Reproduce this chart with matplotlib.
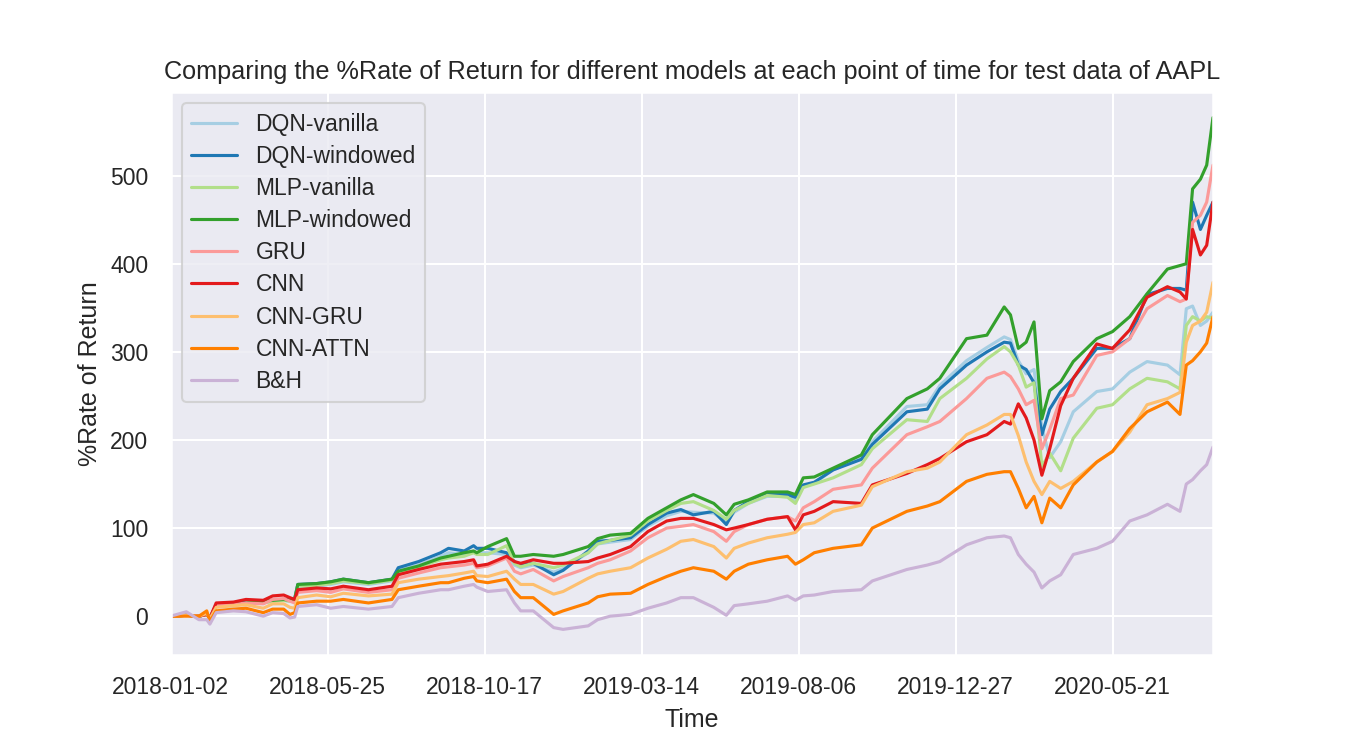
import numpy as np
import matplotlib
matplotlib.use('Agg')
import matplotlib.pyplot as plt
import seaborn as sns

sns.set_theme(style='darkgrid', palette='Paired')
plt.rcParams['font.family'] = ['Liberation Sans', 'DejaVu Sans']
plt.rcParams['xtick.major.pad'] = 4.3
plt.rcParams['ytick.major.pad'] = 4.8

t = [0, 10, 18, 23, 25, 29, 40, 48, 59, 65, 72, 76, 79, 81, 93, 102, 110, 126, 141, 145,
     158, 172, 177, 187, 193, 195, 202, 214, 219, 223, 231, 244, 250, 266, 272, 280, 293, 304, 316, 325,
     333, 346, 354, 359, 368, 380, 393, 398, 403, 410, 422, 440, 447, 469, 482, 490, 507, 520, 531, 535,
     540, 545, 550, 555, 560, 567, 575, 590, 600, 611, 622, 635, 643, 647, 651, 656, 660, 664]

dqn_vanilla = [0, 1, 0, 2, -2, 12, 13, 15, 15, 17, 18, 17, 18, 33, 34, 36, 39, 36, 40, 52,
               58, 68, 72, 70, 74, 72, 72, 70, 58, 55, 58, 50, 54, 72, 82, 84, 87, 102, 114, 119,
               118, 117, 106, 118, 128, 136, 136, 132, 148, 151, 166, 180, 198, 238, 240, 262, 290, 305, 317, 314,
               290, 275, 280, 215, 180, 198, 232, 255, 258, 277, 289, 285, 274, 349, 352, 330, 335, 345]
dqn_windowed = [0, 1, 0, 2, -2, 13, 14, 16, 16, 18, 19, 19, 20, 36, 37, 39, 42, 38, 42, 55,
                62, 72, 77, 74, 80, 77, 77, 72, 62, 58, 60, 47, 52, 74, 85, 86, 89, 104, 117, 121,
                115, 119, 104, 120, 130, 138, 138, 135, 149, 152, 166, 178, 195, 232, 235, 258, 285, 300, 311, 310,
                285, 280, 265, 206, 235, 255, 270, 304, 304, 315, 365, 372, 372, 370, 470, 439, 455, 470]
mlp_vanilla = [0, 1, 0, 2, -2, 11, 12, 14, 15, 17, 18, 17, 18, 34, 35, 37, 40, 37, 41, 50,
               56, 64, 66, 68, 72, 70, 70, 80, 60, 56, 60, 55, 58, 72, 82, 86, 92, 108, 120, 128,
               130, 120, 110, 120, 128, 137, 135, 128, 146, 150, 157, 172, 190, 223, 221, 247, 270, 292, 306, 300,
               285, 260, 265, 170, 185, 165, 202, 236, 240, 258, 270, 266, 258, 330, 340, 335, 340, 338]
mlp_windowed = [0, 1, 0, 2, -2, 12, 13, 15, 17, 18, 19, 18, 19, 36, 37, 39, 42, 38, 42, 51,
                57, 66, 68, 72, 74, 72, 79, 88, 68, 68, 70, 68, 70, 79, 88, 92, 94, 111, 123, 132,
                138, 128, 115, 127, 132, 141, 141, 138, 157, 158, 168, 183, 206, 247, 258, 270, 315, 319, 351, 342,
                304, 311, 334, 224, 256, 266, 289, 315, 323, 340, 366, 394, 398, 400, 485, 496, 512, 566]
gru = [0, 1, 0, 2, -2, 12, 13, 15, 14, 19, 20, 17, 15, 27, 29, 27, 31, 27, 30, 43,
       49, 55, 56, 58, 60, 55, 57, 66, 51, 48, 53, 40, 45, 55, 60, 64, 74, 89, 100, 102,
       104, 96, 85, 96, 104, 110, 113, 108, 123, 130, 144, 149, 168, 206, 215, 221, 247, 270, 277, 272,
       258, 240, 245, 190, 212, 247, 251, 296, 300, 315, 349, 364, 357, 360, 447, 455, 470, 512]
cnn = [0, 1, 0, 2, -2, 15, 16, 19, 18, 23, 24, 21, 19, 30, 32, 31, 34, 30, 34, 47,
       53, 59, 60, 62, 64, 57, 59, 68, 62, 60, 64, 60, 60, 62, 66, 70, 79, 96, 108, 111,
       111, 104, 98, 100, 104, 110, 113, 98, 115, 119, 130, 128, 149, 162, 172, 179, 198, 206, 221, 218,
       241, 225, 200, 160, 190, 239, 270, 309, 304, 325, 362, 374, 368, 360, 439, 410, 421, 470]
cnn_gru = [0, 1, 0, 3, -3, 10, 12, 13, 9, 14, 14, 10, 9, 21, 24, 22, 26, 23, 25, 38,
           42, 45, 46, 49, 51, 46, 45, 51, 42, 36, 36, 25, 28, 43, 48, 51, 55, 66, 76, 85,
           87, 79, 66, 77, 83, 89, 93, 95, 104, 106, 119, 126, 147, 164, 168, 175, 206, 217, 229, 229,
           205, 175, 153, 138, 153, 145, 153, 175, 187, 209, 240, 247, 254, 311, 330, 335, 345, 379]
cnn_attn = [0, 0, 0, 6, -6, 6, 8, 9, 4, 8, 8, 2, 4, 15, 17, 17, 19, 15, 19, 30,
            34, 38, 38, 43, 45, 40, 38, 42, 28, 21, 21, 2, 6, 15, 22, 25, 26, 36, 45, 51,
            55, 51, 42, 51, 59, 64, 68, 59, 64, 72, 77, 81, 100, 119, 125, 130, 153, 161, 164, 164,
            145, 123, 136, 106, 134, 123, 149, 175, 187, 213, 232, 243, 229, 285, 290, 300, 310, 340]
bh = [0, 5, -4, -4, -9, 4, 6, 5, 0, 4, 3, -2, -1, 11, 13, 9, 11, 8, 11, 21,
      26, 30, 30, 34, 36, 33, 28, 30, 15, 6, 6, -13, -15, -11, -4, 0, 2, 9, 15, 21,
      21, 10, 1, 12, 14, 17, 23, 18, 23, 24, 28, 30, 40, 53, 58, 62, 81, 89, 91, 89,
      70, 59, 50, 32, 40, 47, 70, 77, 85, 108, 115, 127, 119, 150, 155, 165, 172, 192]

names = ['DQN-vanilla', 'DQN-windowed', 'MLP-vanilla', 'MLP-windowed', 'GRU',
         'CNN', 'CNN-GRU', 'CNN-ATTN', 'B&H']
series = [dqn_vanilla, dqn_windowed, mlp_vanilla, mlp_windowed, gru,
          cnn, cnn_gru, cnn_attn, bh]

tick_pos = [0, 100, 200, 300, 400, 500, 600]
tick_labels = ['2018-01-02', '2018-05-25', '2018-10-17', '2019-03-14',
               '2019-08-06', '2019-12-27', '2020-05-21']

fig = plt.figure(figsize=(9, 5), dpi=150)
ax = fig.add_axes([0.1264, 0.1267, 0.7721, 0.7507])
colors = sns.color_palette('Paired')
for i in range(len(names)):
    ax.plot(t, series[i], color=colors[i], label=names[i], lw=1.5)

ax.set_xlim(0, t[-1])
ax.set_xticks(tick_pos)
ax.set_xticklabels(tick_labels)
ax.set_xlabel('Time')
ax.set_ylabel('%Rate of Return')
ax.set_title('Comparing the %Rate of Return for different models at each point of time for test data of AAPL',
             fontsize=12.1)
ax.legend(loc='upper left', labelspacing=0.4)

fig.savefig('out.png', dpi=150)
